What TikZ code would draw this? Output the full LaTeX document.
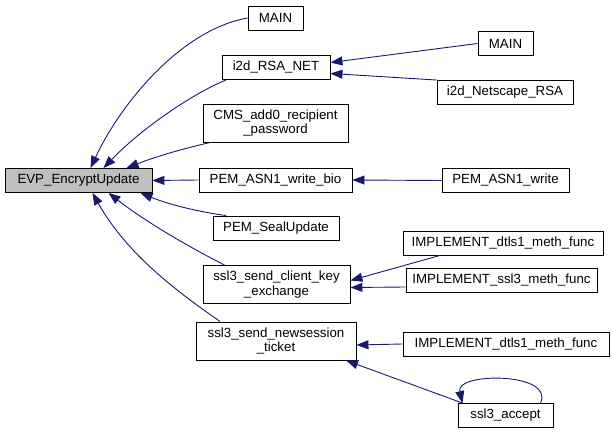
\documentclass[tikz,border=0pt]{standalone}
\usepackage{fontspec}
\setmainfont{Liberation Sans}
\usetikzlibrary{arrows.meta}
\definecolor{edgeblue}{HTML}{191970}
\begin{document}
\begin{tikzpicture}[
  x=1pt, y=-1pt,
  every node/.style={draw, rectangle, line width=0.9pt, inner sep=1pt,
    font=\fontsize{13.3}{14.5}\selectfont, align=center, fill=white},
  fn/.style={minimum height=24pt},
  fntwo/.style={minimum height=38pt},
  current/.style={fill=black!25},
  edge/.style={draw=edgeblue, line width=0.9pt,
    {Triangle[length=12pt,width=9pt]}-}
]
\useasboundingbox (0,0) rectangle (613,435);
% the function itself
\node[fn, current, minimum width=147pt] (evp) at (78.5,180.5) {EVP\_EncryptUpdate};
% direct callers
\node[fn, minimum width=55pt] (mainA) at (275.5,18) {MAIN};
\node[fn, minimum width=108pt] (i2dnet) at (276,67.5) {i2d\_RSA\_NET};
\node[fntwo, minimum width=145pt] (cms) at (275.5,123) {CMS\_add0\_recipient\\\_password};
\node[fn, minimum width=153pt] (pemwb) at (275.5,180) {PEM\_ASN1\_write\_bio};
\node[fn, minimum width=126pt] (seal) at (276,228) {PEM\_SealUpdate};
\node[fntwo, minimum width=147pt] (client) at (276.5,284.5) {ssl3\_send\_client\_key\\\_exchange};
\node[fntwo, minimum width=160pt] (newsess) at (276,341) {ssl3\_send\_newsession\\\_ticket};
% callers of the callers
\node[fn, minimum width=55pt] (mainB) at (505.5,43.5) {MAIN};
\node[fn, minimum width=136pt] (netscape) at (505,92.5) {i2d\_Netscape\_RSA};
\node[fn, minimum width=127pt] (pemw) at (505.5,180.5) {PEM\_ASN1\_write};
\node[fn, minimum width=200pt] (dtlsA) at (503,243) {IMPLEMENT\_dtls1\_meth\_func};
\node[fn, minimum width=191pt] (sslmeth) at (501.5,280) {IMPLEMENT\_ssl3\_meth\_func};
\node[fn, minimum width=206pt] (dtlsB) at (506,344) {IMPLEMENT\_dtls1\_meth\_func};
\node[fn, minimum width=95pt] (accept) at (505.5,415.5) {ssl3\_accept};
% edges into EVP_EncryptUpdate
\draw[edge] ([xshift=12pt]evp.north) .. controls (120,105) and (180,30) .. (mainA.west);
\draw[edge] ([xshift=25pt]evp.north) .. controls (140,130) and (190,95) .. ([xshift=-50pt]i2dnet.south);
\draw[edge] ([xshift=48pt]evp.north) .. controls (160,155) and (190,147) .. ([xshift=-65pt]cms.south);
\draw[edge] (evp.east) -- (pemwb.west);
\draw[edge] ([xshift=62pt]evp.south) .. controls (170,205) and (200,212) .. ([xshift=-50pt]seal.north);
\draw[edge] ([xshift=30pt]evp.south) .. controls (150,225) and (195,250) .. ([xshift=-52pt]client.north);
\draw[edge] ([xshift=14pt]evp.south) .. controls (130,260) and (190,300) .. ([xshift=-56pt]newsess.north);
% second level edges
\draw[edge] ([yshift=5pt]i2dnet.east) -- (mainB.west);
\draw[edge] ([yshift=-6pt]i2dnet.east) -- ([xshift=-68pt]netscape.north);
\draw[edge] (pemwb.east) -- (pemw.west);
\draw[edge] ([yshift=4pt]client.east) -- ([xshift=-63pt]dtlsA.south);
\draw[edge] ([yshift=-3pt]client.east) -- ([yshift=-7pt]sslmeth.west);
\draw[edge] ([yshift=-4pt]newsess.east) -- (dtlsB.west);
\draw[edge] ([xshift=70pt]newsess.south) -- ([xshift=-43pt]accept.north);
\draw[edge] ([xshift=-43pt]accept.north) .. controls (455,372) and (555,372) .. ([xshift=35pt]accept.north);
\end{tikzpicture}
\end{document}
